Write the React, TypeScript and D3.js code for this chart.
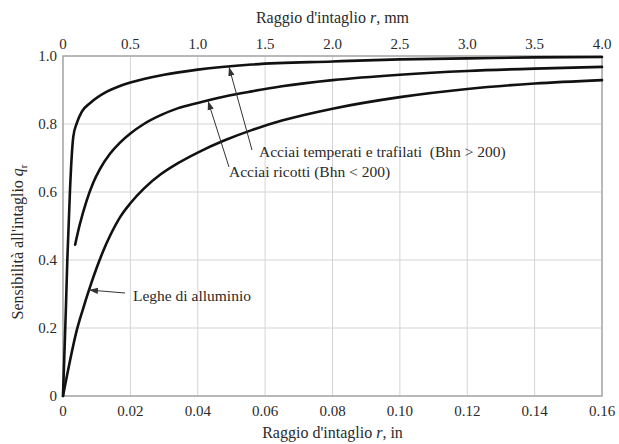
import React from "react";
import * as d3 from "d3";

// Data: notch radius r (in) and notch sensitivity q
const quenchedR = [0, 0.0004, 0.0009, 0.00128, 0.00208, 0.00258, 0.00306, 0.00407, 0.00555, 0.008, 0.013, 0.0169, 0.02, 0.03, 0.04, 0.056, 0.08, 0.1, 0.12, 0.14, 0.16];
const quenchedQ = [0, 0.12, 0.27, 0.4, 0.606, 0.704, 0.763, 0.802, 0.836, 0.861, 0.895, 0.912, 0.922, 0.945, 0.96, 0.975, 0.984, 0.99, 0.993, 0.996, 0.997];

const annealedR = [0.0036, 0.005, 0.007, 0.009, 0.011, 0.014, 0.017, 0.02, 0.024, 0.029, 0.034, 0.04, 0.048, 0.056, 0.065, 0.08, 0.1, 0.12, 0.14, 0.16];
const annealedQ = [0.445, 0.505, 0.574, 0.628, 0.668, 0.713, 0.746, 0.772, 0.8, 0.826, 0.846, 0.862, 0.881, 0.896, 0.911, 0.929, 0.945, 0.956, 0.963, 0.968];

const aluminumR = [0, 0.002, 0.004, 0.006, 0.008, 0.01, 0.012, 0.014, 0.017, 0.02, 0.024, 0.029, 0.034, 0.04, 0.048, 0.056, 0.065, 0.08, 0.1, 0.12, 0.14, 0.16];
const aluminumQ = [0, 0.1, 0.19, 0.258, 0.32, 0.377, 0.428, 0.472, 0.527, 0.567, 0.61, 0.652, 0.684, 0.716, 0.752, 0.782, 0.81, 0.845, 0.879, 0.903, 0.919, 0.929];

const bottomTicks = [0, 0.02, 0.04, 0.06, 0.08, 0.1, 0.12, 0.14, 0.16];
const bottomTickLabels = ["0", "0.02", "0.04", "0.06", "0.08", "0.10", "0.12", "0.14", "0.16"];
const topTicks = [0, 0.5, 1, 1.5, 2, 2.5, 3, 3.5, 4];
const topTickLabels = ["0", "0.5", "1.0", "1.5", "2.0", "2.5", "3.0", "3.5", "4.0"];
const leftTicks = [0, 0.2, 0.4, 0.6, 0.8, 1.0];
const leftTickLabels = ["0", "0.2", "0.4", "0.6", "0.8", "1.0"];

const W = 619, H = 444;
const M = { left: 63, right: 17, top: 56, bottom: 48 };
const FONT = "'Liberation Serif', 'Times New Roman', Times, serif";

export default function App() {
  const x = d3.scaleLinear().domain([0, 0.16]).range([M.left, W - M.right]);
  const xTop = d3.scaleLinear().domain([0, 4]).range([M.left, W - M.right]);
  const y = d3.scaleLinear().domain([0, 1]).range([H - M.bottom, M.top]);

  const line = d3
    .line<[number, number]>()
    .x((d) => x(d[0]))
    .y((d) => y(d[1]))
    .curve(d3.curveMonotoneX);

  const series = [
    d3.zip(quenchedR, quenchedQ) as [number, number][],
    d3.zip(annealedR, annealedQ) as [number, number][],
    d3.zip(aluminumR, aluminumQ) as [number, number][],
  ];

  const textColor = "#2a2a2a";
  const arrowColor = "#333";

  return (
    <svg width={W} height={H} style={{ position: "absolute", left: 0, top: 0, background: "#fff", fontFamily: FONT }}>
      <defs>
        <marker id="arr" viewBox="0 0 10 10" refX="10" refY="5" markerWidth="9" markerHeight="9" orient="auto" markerUnits="userSpaceOnUse">
          <path d="M0,1.5 L10,5 L0,8.5 Z" fill={arrowColor} />
        </marker>
      </defs>
      <rect x={0} y={0} width={W} height={H} fill="#fff" />
      {/* gridlines */}
      {bottomTicks.map((t, i) => (
        <line key={"gx" + i} x1={x(t)} x2={x(t)} y1={y(0)} y2={y(1)} stroke="#d4d4d4" strokeWidth={1} />
      ))}
      {leftTicks.map((t, i) => (
        <line key={"gy" + i} x1={x(0)} x2={x(0.16)} y1={y(t)} y2={y(t)} stroke="#d4d4d4" strokeWidth={1} />
      ))}
      {/* frame */}
      <rect x={x(0)} y={y(1)} width={x(0.16) - x(0)} height={y(0) - y(1)} fill="none" stroke="#a8a8a8" strokeWidth={1.5} />

      {/* curves */}
      {series.map((s, i) => (
        <path key={"s" + i} d={line(s) || ""} fill="none" stroke="#111" strokeWidth={2.6} strokeLinejoin="round" strokeLinecap="round" />
      ))}

      {/* bottom tick labels */}
      {bottomTicks.map((t, i) => (
        <text key={"bl" + i} x={x(t)} y={y(0) + 20} textAnchor="middle" fontSize={15} fill={textColor}>
          {bottomTickLabels[i]}
        </text>
      ))}
      {/* top tick labels */}
      {topTicks.map((t, i) => (
        <text key={"tl" + i} x={xTop(t)} y={y(1) - 7} textAnchor="middle" fontSize={15} fill={textColor}>
          {topTickLabels[i]}
        </text>
      ))}
      {/* left tick labels */}
      {leftTicks.map((t, i) => (
        <text key={"ll" + i} x={x(0) - 6} y={y(t) + 5} textAnchor="end" fontSize={15} fill={textColor}>
          {leftTickLabels[i]}
        </text>
      ))}

      {/* axis titles */}
      <text x={(x(0) + x(0.16)) / 2} y={23} textAnchor="middle" fontSize={16} fill={textColor}>
        Raggio d'intaglio <tspan fontStyle="italic">r</tspan>, mm
      </text>
      <text x={(x(0) + x(0.16)) / 2} y={438} textAnchor="middle" fontSize={16} fill={textColor}>
        Raggio d'intaglio <tspan fontStyle="italic">r</tspan>, in
      </text>
      <text transform={`translate(23, ${242}) rotate(-90)`} textAnchor="middle" fontSize={16} fill={textColor}>
        Sensibilità all'intaglio <tspan fontStyle="italic">q</tspan>
        <tspan fontSize={11} dy={4}>r</tspan>
      </text>

      {/* annotations */}
      <line x1={252} y1={150} x2={229} y2={67} stroke={arrowColor} strokeWidth={1} markerEnd="url(#arr)" />
      <line x1={229} y1={167} x2={208} y2={101} stroke={arrowColor} strokeWidth={1} markerEnd="url(#arr)" />
      <line x1={125} y1={293} x2={89} y2={290} stroke={arrowColor} strokeWidth={1} markerEnd="url(#arr)" />
      <text x={259} y={157} fontSize={15.5} fill={textColor}>
        Acciai temperati e trafilati{"\u00a0\u00a0"}(Bhn &gt; 200)
      </text>
      <text x={229} y={177} fontSize={15.5} fill={textColor}>
        Acciai ricotti (Bhn &lt; 200)
      </text>
      <text x={133} y={301} fontSize={15.5} fill={textColor}>
        Leghe di alluminio
      </text>
    </svg>
  );
}
